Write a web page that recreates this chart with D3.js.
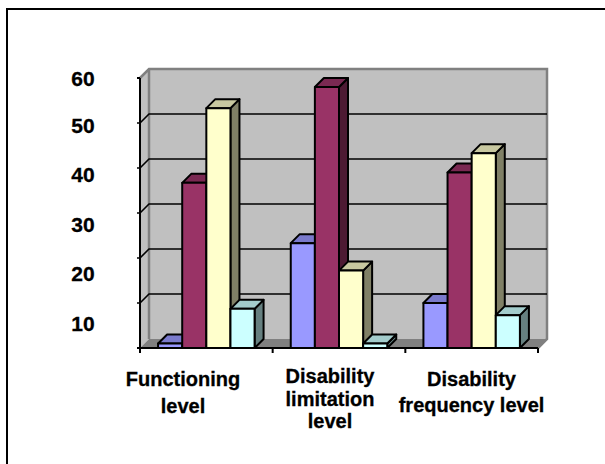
<!DOCTYPE html>
<html><head><meta charset="utf-8">
<script src="https://cdn.jsdelivr.net/npm/d3@7"></script>
<style>html,body{margin:0;padding:0;background:#fff}svg{display:block}</style>
</head><body><svg id="c" width="605" height="464"></svg>
<script>
const categories = ["Functioning level","Disability limitation level","Disability frequency level"];
const categoryLines = [["Functioning","level"],["Disability","limitation","level"],["Disability","frequency level"]];
const seriesNames = ["s1","s2","s3","s4"];
const s1 = [1, 23.3, 10];
const s2 = [36.7, 58, 39];
const s3 = [53.3, 17.2, 43.3];
const s4 = [8.7, 1, 7.3];
const allSeries = [s1,s2,s3,s4];
const faceColors = ["#9999FF","#993366","#FFFFCC","#CCFFFF"];
const topColors = ["#7A7ACC","#7A2952","#C8C8A0","#A3CCCC"];
const sideColors = ["#4D4D80","#4D1A33","#808066","#668080"];
const gridValues = [10,20,30,40,50];
const tickLabels = [10,20,30,40,50,60];

const svg = d3.select("#c");
const depth = 9;
const y = d3.scaleLinear().domain([0,60]).range([348,78]);
const x0 = d3.scaleBand().domain(categories).range([140,538]);
const x1 = d3.scaleBand().domain(seriesNames).range([0,x0.bandwidth()]).paddingOuter(0.75).paddingInner(0);
const labelY = d3.scaleLinear().domain([10,50]).range([323,125]);
const poly = pts => pts.map(p=>p.join(",")).join(" ");

// frame
svg.append("path").attr("d","M7,464V9H605").attr("fill","none").attr("stroke","#000").attr("stroke-width",2);

const L=x0.range()[0], R=x0.range()[1], T=y(60), B=y(0);
// walls
svg.append("polygon").attr("points",poly([[L+depth,T-depth],[R+depth,T-depth],[R+depth,B-depth],[L+depth,B-depth]])).attr("fill","#C0C0C0");
svg.append("polygon").attr("points",poly([[L,T],[L+depth,T-depth],[L+depth,B-depth],[L,B]])).attr("fill","#C0C0C0");
svg.append("polygon").attr("points",poly([[L,B],[L+depth,B-depth],[R+depth,B-depth],[R,B]])).attr("fill","#808080");
svg.append("path").attr("d",`M${L},${T}L${L+depth},${T-depth}H${R+depth}V${B-depth}L${R},${B}M${L+depth},${T-depth}V${B-depth}`)
  .attr("fill","none").attr("stroke","#808080").attr("stroke-width",2.5);
// gridlines
svg.selectAll(".g").data(gridValues).join("path").attr("class","g")
  .attr("d",v=>`M${L-3},${y(v)}H${L}L${L+depth},${y(v)-depth}H${R+depth}`)
  .attr("fill","none").attr("stroke","#000").attr("stroke-width",1.6);
// axes
svg.append("path").attr("d",`M${L},${T}V${B}H${R}`).attr("fill","none").attr("stroke","#000").attr("stroke-width",2);
svg.append("path").attr("d",`M${L-3},${T}H${L}M${L-3},${B}H${L}`).attr("stroke","#000").attr("stroke-width",2);
const xTicks = categories.map(c=>x0(c)).concat([R]);
svg.selectAll(".xt").data(xTicks).join("line").attr("class","xt")
  .attr("x1",d=>d).attr("x2",d=>d).attr("y1",B).attr("y2",B+5).attr("stroke","#000").attr("stroke-width",2);

// bars, back to front within each category
const bw = x1.bandwidth();
categories.forEach((c,ci)=>{
  allSeries.forEach((vals,si)=>{
    const xl = x0(c)+x1(seriesNames[si]), xr = xl+bw, yt = y(vals[ci]);
    const g = svg.append("g").attr("stroke","#000").attr("stroke-width",2).attr("stroke-linejoin","round");
    g.append("polygon").attr("points",poly([[xr,yt],[xr+depth,yt-depth],[xr+depth,B-depth],[xr,B]])).attr("fill",sideColors[si]);
    g.append("polygon").attr("points",poly([[xl,yt],[xl+depth,yt-depth],[xr+depth,yt-depth],[xr,yt]])).attr("fill",topColors[si]);
    g.append("rect").attr("x",xl).attr("y",yt).attr("width",bw).attr("height",B-yt).attr("fill",faceColors[si]);
  });
});

// labels
const txt = (s,xp,yp,size)=>svg.append("text").attr("x",xp).attr("y",yp).attr("text-anchor","middle")
  .attr("font-family","Liberation Sans, Arial, sans-serif").attr("font-weight","bold").attr("font-size",size)
  .attr("fill","#000").attr("stroke","#000").attr("stroke-width",0.3).text(s);
tickLabels.forEach(t=>{
  const yp = t===60 ? y(60) : labelY(t);
  txt(t,83,yp+7.5,21);
});
const labelX = [183,330,471.5];
const labelBase = [[386,412.5],[383,406,428],[386,412]];
categoryLines.forEach((ls,i)=>ls.forEach((s,j)=>txt(s,labelX[i],labelBase[i][j],20)));
</script></body></html>
